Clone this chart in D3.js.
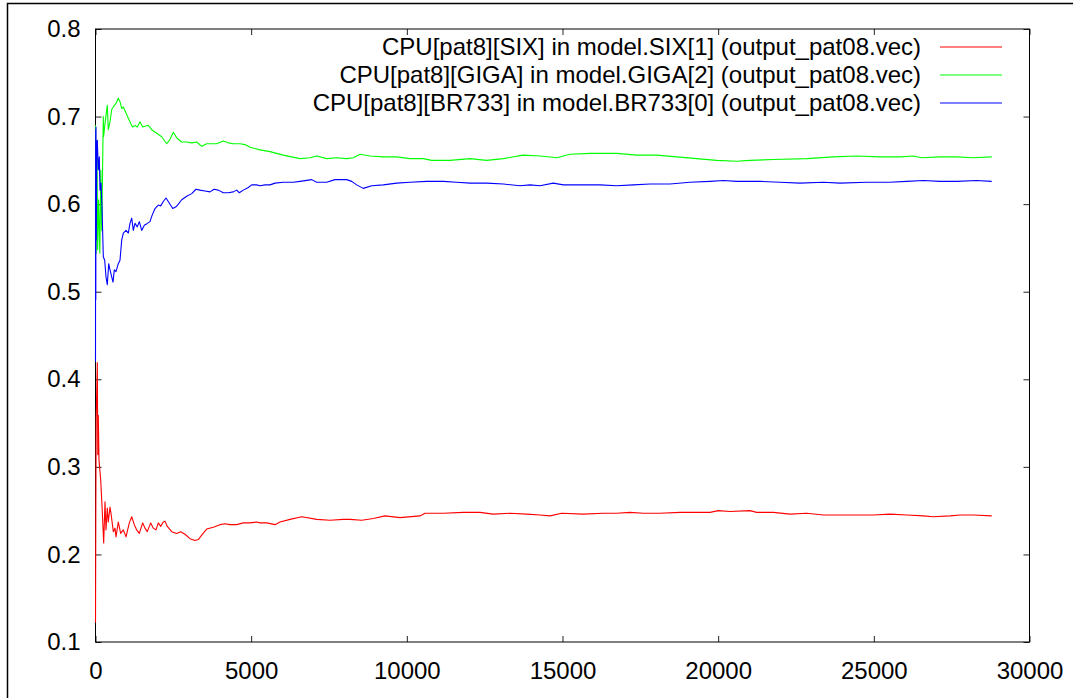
<!DOCTYPE html>
<html>
<head>
<meta charset="utf-8">
<script src="https://cdn.jsdelivr.net/npm/d3@7"></script>
<style>
  body { margin: 0; background: #fff; }
  svg { display: block; font-family: "Liberation Sans", Arial, sans-serif; }
</style>
</head>
<body>
<div id="chart-container"></div>
<script>
// Series values: [step, cpu share]
const sixPoints = [
  [0, 0.122], [10, 0.245], [22, 0.354], [58, 0.419], [74, 0.314], [90, 0.359], [112, 0.308],
  [167, 0.285], [209, 0.256], [263, 0.213], [305, 0.260], [337, 0.228], [379, 0.253], [411, 0.237],
  [466, 0.254], [498, 0.247], [572, 0.226], [626, 0.230], [658, 0.220], [732, 0.237], [809, 0.224],
  [893, 0.228], [980, 0.220], [1086, 0.236], [1163, 0.243], [1246, 0.234], [1323, 0.228], [1407, 0.224],
  [1516, 0.236], [1590, 0.230], [1664, 0.226], [1773, 0.236], [1857, 0.230], [1943, 0.228], [2017, 0.236],
  [2094, 0.232], [2178, 0.237], [2232, 0.238], [2306, 0.232], [2448, 0.226], [2608, 0.224], [2737, 0.226],
  [2875, 0.223], [3035, 0.218], [3196, 0.216], [3302, 0.217], [3411, 0.222], [3572, 0.229], [3784, 0.231],
  [3999, 0.234], [4159, 0.235], [4320, 0.234], [4535, 0.234], [4747, 0.236], [4963, 0.236], [5178, 0.237],
  [5284, 0.236], [5499, 0.236], [5766, 0.234], [5926, 0.237], [6247, 0.240], [6623, 0.243], [7105, 0.240],
  [7532, 0.239], [7959, 0.240], [8175, 0.240], [8550, 0.239], [8923, 0.241], [9299, 0.244], [9781, 0.242],
  [10423, 0.244], [10583, 0.247], [11171, 0.247], [11814, 0.248], [12350, 0.248], [12777, 0.246],
  [13314, 0.247], [13850, 0.246], [14277, 0.245], [14599, 0.244], [14974, 0.247], [15668, 0.246],
  [16311, 0.247], [16741, 0.247], [17168, 0.248], [17595, 0.247], [18132, 0.247], [18774, 0.248],
  [19201, 0.248], [19737, 0.248], [20004, 0.250], [20380, 0.249], [21022, 0.250], [21238, 0.248],
  [21771, 0.248], [22307, 0.246], [22844, 0.247], [23377, 0.245], [23913, 0.245], [24450, 0.245],
  [24983, 0.245], [25519, 0.246], [26056, 0.245], [26589, 0.244], [26910, 0.243], [27446, 0.244],
  [27768, 0.245], [28195, 0.245], [28786, 0.244]
];

const gigaPoints = [
  [0, 0.690], [20, 0.544], [45, 0.673], [70, 0.548], [100, 0.605], [140, 0.544], [170, 0.639],
  [200, 0.570], [251, 0.700], [260, 0.677], [305, 0.692], [379, 0.713], [411, 0.685], [466, 0.694],
  [520, 0.708], [572, 0.711], [658, 0.715], [732, 0.721], [787, 0.717], [842, 0.709], [893, 0.711],
  [980, 0.704], [1054, 0.698], [1131, 0.692], [1195, 0.688], [1269, 0.690], [1343, 0.688], [1429, 0.694],
  [1516, 0.688], [1590, 0.689], [1696, 0.690], [1805, 0.685], [1966, 0.681], [2126, 0.677], [2287, 0.669],
  [2393, 0.674], [2499, 0.682], [2627, 0.675], [2769, 0.671], [2929, 0.671], [3090, 0.670], [3251, 0.671],
  [3411, 0.666], [3572, 0.669], [3732, 0.669], [3893, 0.669], [4105, 0.672], [4266, 0.670], [4426, 0.669],
  [4641, 0.669], [4802, 0.668], [4963, 0.665], [5284, 0.662], [5605, 0.660], [6032, 0.656], [6569, 0.652],
  [6890, 0.653], [7105, 0.655], [7426, 0.652], [7747, 0.653], [8068, 0.652], [8281, 0.653], [8496, 0.657],
  [8817, 0.655], [9244, 0.654], [9674, 0.654], [10102, 0.652], [10529, 0.652], [10799, 0.650],
  [11387, 0.650], [12029, 0.652], [12565, 0.650], [13099, 0.652], [13741, 0.656], [14277, 0.655],
  [14814, 0.653], [15241, 0.657], [15883, 0.658], [16741, 0.658], [17383, 0.656], [18026, 0.656],
  [18668, 0.654], [19310, 0.652], [19953, 0.650], [20595, 0.649], [21022, 0.650], [21771, 0.651],
  [22844, 0.652], [23698, 0.654], [24450, 0.655], [25198, 0.654], [25841, 0.654], [26268, 0.655],
  [26538, 0.653], [27125, 0.654], [27662, 0.654], [28195, 0.653], [28786, 0.654]
];

const br733Points = [
  [0, 0.420], [5, 0.685], [10, 0.491], [16, 0.688], [26, 0.559], [39, 0.666], [58, 0.673], [90, 0.639],
  [122, 0.654], [145, 0.616], [177, 0.624], [209, 0.597], [251, 0.540], [295, 0.536], [337, 0.517],
  [379, 0.508], [424, 0.532], [466, 0.525], [520, 0.517], [562, 0.511], [604, 0.525], [658, 0.523],
  [732, 0.532], [787, 0.536], [842, 0.559], [893, 0.567], [980, 0.570], [1054, 0.567], [1108, 0.578],
  [1163, 0.584], [1214, 0.570], [1269, 0.578], [1343, 0.574], [1407, 0.580], [1484, 0.570], [1567, 0.576],
  [1664, 0.578], [1751, 0.580], [1805, 0.586], [1911, 0.595], [2017, 0.599], [2094, 0.598], [2178, 0.603],
  [2264, 0.607], [2338, 0.603], [2480, 0.595], [2586, 0.597], [2660, 0.600], [2769, 0.605], [2929, 0.609],
  [3090, 0.612], [3228, 0.617], [3356, 0.616], [3517, 0.615], [3678, 0.614], [3806, 0.617], [3944, 0.616],
  [4105, 0.613], [4266, 0.613], [4426, 0.614], [4535, 0.616], [4619, 0.613], [4747, 0.616], [4908, 0.619],
  [5017, 0.622], [5178, 0.622], [5284, 0.621], [5444, 0.622], [5605, 0.622], [5766, 0.624], [6032, 0.625],
  [6353, 0.625], [6569, 0.626], [6944, 0.628], [7105, 0.625], [7426, 0.625], [7693, 0.628], [8068, 0.628],
  [8229, 0.626], [8390, 0.622], [8602, 0.618], [8872, 0.621], [9244, 0.622], [9674, 0.624], [10102, 0.625],
  [10638, 0.626], [11171, 0.626], [11602, 0.625], [12029, 0.624], [12565, 0.624], [13099, 0.623],
  [13635, 0.621], [13956, 0.622], [14277, 0.621], [14705, 0.624], [15026, 0.622], [15668, 0.622],
  [16204, 0.622], [16741, 0.621], [17274, 0.622], [17810, 0.623], [18453, 0.623], [19095, 0.625],
  [19737, 0.626], [20165, 0.627], [20595, 0.626], [21022, 0.626], [21343, 0.626], [21986, 0.625],
  [22628, 0.624], [23377, 0.625], [23913, 0.624], [24771, 0.625], [25519, 0.625], [26056, 0.626],
  [26589, 0.627], [27125, 0.626], [27662, 0.626], [28304, 0.627], [28786, 0.626]
];

const seriesNames = [
  'CPU[pat8][SIX] in model.SIX[1] (output_pat08.vec)',
  'CPU[pat8][GIGA] in model.GIGA[2] (output_pat08.vec)',
  'CPU[pat8][BR733] in model.BR733[0] (output_pat08.vec)'
];
const seriesColors = ['#ff0000', '#00ff00', '#0000ff'];
const xTicks = [0, 5000, 10000, 15000, 20000, 25000, 30000];
const yTicks = [0.1, 0.2, 0.3, 0.4, 0.5, 0.6, 0.7, 0.8];

// Set up dimensions
const totalWidth = 1073;
const totalHeight = 698;
const plot = { left: 95.5, top: 29, right: 1029.5, bottom: 642 };

const svg = d3.select('#chart-container')
  .append('svg')
  .attr('width', totalWidth)
  .attr('height', totalHeight);

// Outer frame (clipped by the page on the right and bottom)
svg.append('rect')
  .attr('x', 7.5)
  .attr('y', 3.5)
  .attr('width', 1100)
  .attr('height', 720)
  .attr('fill', 'none')
  .attr('stroke', '#000')
  .attr('stroke-width', 1.5);

// Create scales
const xScale = d3.scaleLinear()
  .domain([0, 30000])
  .range([plot.left, plot.right]);

const yScale = d3.scaleLinear()
  .domain([0.1, 0.8])
  .range([plot.bottom, plot.top]);

// Create axes (gnuplot style: inward ticks, mirrored on top and right)
const styleAxis = g => {
  g.select('.domain').remove();
  g.selectAll('.tick line').attr('stroke', '#222');
  g.selectAll('.tick text')
    .attr('fill', '#000')
    .attr('font-size', 24)
    .attr('font-family', '"Liberation Sans", Arial, sans-serif');
};

svg.append('g')
  .attr('transform', `translate(0, ${plot.bottom})`)
  .call(d3.axisBottom(xScale).tickValues(xTicks).tickFormat(d3.format('d')).tickSize(-6).tickPadding(20))
  .call(styleAxis);

svg.append('g')
  .attr('transform', `translate(${plot.left}, 0)`)
  .call(d3.axisLeft(yScale).tickValues(yTicks).tickFormat(d3.format('.1f')).tickSize(-6).tickPadding(15))
  .call(styleAxis);

svg.append('g')
  .attr('transform', `translate(0, ${plot.top})`)
  .call(d3.axisTop(xScale).tickValues(xTicks).tickFormat('').tickSize(-6))
  .call(styleAxis);

svg.append('g')
  .attr('transform', `translate(${plot.right}, 0)`)
  .call(d3.axisRight(yScale).tickValues(yTicks).tickFormat('').tickSize(-6))
  .call(styleAxis);

// Plot frame
svg.append('rect')
  .attr('x', plot.left)
  .attr('y', plot.top)
  .attr('width', plot.right - plot.left)
  .attr('height', plot.bottom - plot.top)
  .attr('fill', 'none')
  .attr('stroke', '#000')
  .attr('stroke-width', 1);

// Create lines
const line = d3.line()
  .x(d => xScale(d[0]))
  .y(d => yScale(d[1]));

const allSeries = [sixPoints, gigaPoints, br733Points];

svg.selectAll('.series')
  .data(allSeries)
  .enter()
  .append('path')
  .attr('class', 'series')
  .attr('d', line)
  .attr('fill', 'none')
  .attr('stroke', (d, i) => seriesColors[i])
  .attr('stroke-width', 1.1)
  .attr('stroke-linejoin', 'round');

// Create legend
const legend = svg.append('g')
  .attr('transform', 'translate(0, 47)');

const legendRows = legend.selectAll('g')
  .data(seriesNames)
  .enter()
  .append('g')
  .attr('transform', (d, i) => `translate(0, ${i * 28})`);

legendRows.append('text')
  .attr('x', 921)
  .attr('dy', '0.35em')
  .attr('text-anchor', 'end')
  .attr('font-size', 24)
  .attr('fill', '#000')
  .text(d => d);

legendRows.append('line')
  .attr('x1', 940)
  .attr('x2', 1002)
  .attr('stroke', (d, i) => seriesColors[i])
  .attr('stroke-width', 1.1);
</script>
</body>
</html>
